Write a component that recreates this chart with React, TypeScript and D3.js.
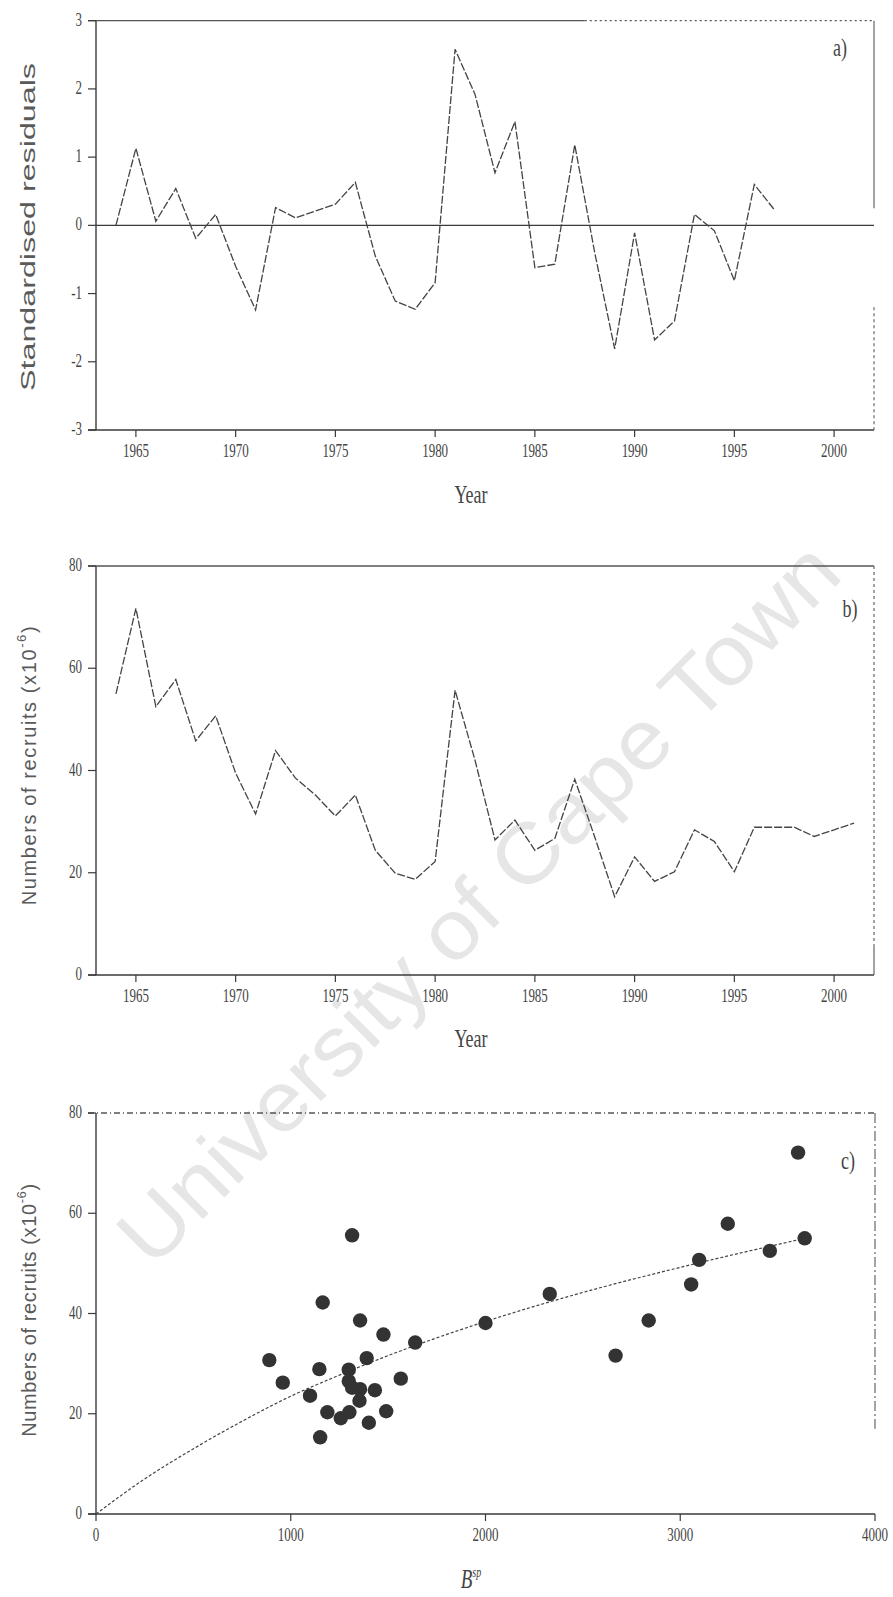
import * as d3 from "d3";

// years for panel a and b
const recruitYears = [
  1964, 1965, 1966, 1967, 1968, 1969, 1970, 1971, 1972, 1973, 1974, 1975, 1976,
  1977, 1978, 1979, 1980, 1981, 1982, 1983, 1984, 1985, 1986, 1987, 1988, 1989,
  1990, 1991, 1992, 1993, 1994, 1995, 1996, 1997, 1998, 1999, 2000, 2001,
];
const residuals = [
  0.0, 1.13, 0.06, 0.54, -0.19, 0.16, -0.6, -1.24, 0.26, 0.11, 0.21, 0.31, 0.63,
  -0.45, -1.11, -1.23, -0.84, 2.58, 1.92, 0.77, 1.52, -0.62, -0.57, 1.18, -0.4,
  -1.81, -0.11, -1.68, -1.4, 0.16, -0.08, -0.81, 0.6, 0.23,
];
const recruits = [
  55.0, 71.7, 52.5, 57.8, 45.8, 50.7, 39.5, 31.5, 43.9, 38.5, 35.2, 31.1, 35.2,
  24.4, 19.9, 18.7, 22.2, 55.7, 42.0, 26.4, 30.3, 24.4, 26.7, 38.3, 27.0, 15.3,
  23.1, 18.3, 20.2, 28.4, 26.1, 20.2, 28.9, 28.9, 28.9, 27.1, 28.4, 29.7,
];

// panel c: spawner biomass vs recruits
const spawnerBiomass = [
  890, 959, 1099, 1147, 1164, 1151, 1188, 1257, 1301, 1298, 1298, 1315, 1356,
  1353, 1315, 1356, 1390, 1401, 1432, 1476, 1490, 1565, 1639, 2000, 2330, 2668,
  2838, 3056, 3097, 3244, 3460, 3639, 3605,
];
const scatterRecruits = [
  30.7, 26.2, 23.6, 28.9, 42.2, 15.3, 20.3, 19.1, 20.3, 28.8, 26.5, 25.2, 24.9,
  22.6, 55.6, 38.6, 31.1, 18.2, 24.7, 35.8, 20.5, 27.0, 34.2, 38.1, 43.9, 31.6,
  38.6, 45.8, 50.7, 57.9, 52.5, 55.0, 72.1,
];
// fitted stock-recruit curve
const fitBiomass = [0, 250, 500, 750, 1000, 1250, 1500, 2000, 2500, 3000, 3640];
const fitRecruits = [0, 7.0, 13.0, 18.5, 23.5, 27.7, 31.6, 38.4, 44.2, 49.2, 55.0];

const yearTicks = [1965, 1970, 1975, 1980, 1985, 1990, 1995, 2000];
const residualTicks = [-3, -2, -1, 0, 1, 2, 3];
const recruitTicks = [0, 20, 40, 60, 80];
const biomassTicks = [0, 1000, 2000, 3000, 4000];

const W = 893;
const H = 1597;
const LEFT = 96;
const RIGHT = 874;
const INK = "#3a3a3a";
const SERIF = "'Liberation Serif', 'DejaVu Serif', serif";
const SANS = "'Liberation Sans', Arial, sans-serif";
const STRETCH = 1.4; // the scan is stretched vertically

const xYear = d3.scaleLinear().domain([1963, 2002]).range([LEFT, RIGHT]);
const yA = d3.scaleLinear().domain([-3, 3]).range([430, 20.7]);
const yB = d3.scaleLinear().domain([0, 80]).range([975, 566]);
const xC = d3.scaleLinear().domain([0, 4000]).range([LEFT, 875]);
const yC = d3.scaleLinear().domain([0, 80]).range([1514, 1113]);

const HText = ({ x, y, size = 13, anchor = "middle", family = SERIF, children }: any) => (
  <text
    transform={`translate(${x},${y}) scale(1,${STRETCH})`}
    fontSize={size}
    fontFamily={family}
    textAnchor={anchor}
    fill="#444"
  >
    {children}
  </text>
);

const RecruitLabel = ({ x, y, spacing }: any) => (
  <text
    transform={`translate(${x},${y}) rotate(-90)`}
    fontSize={20}
    fontFamily={SANS}
    textAnchor="middle"
    dominantBaseline="central"
    fill="#5a5a5a"
    letterSpacing={spacing}
  >
    Numbers of recruits (x10
    <tspan fontSize={13} dy={-8}>-6</tspan>
    <tspan dy={8}>)</tspan>
  </text>
);

// left axis + bottom axis solid, top and right edges as the scan shows them
const Frame = ({ x0, x1, y0, y1, topSegs, rightSegs }: any) => (
  <g fill="none">
    <line x1={x0} x2={x0} y1={y0} y2={y1} stroke={INK} strokeWidth={1.4} />
    <line x1={x0 - 8} x2={x1} y1={y1} y2={y1} stroke={INK} strokeWidth={1.6} />
    {topSegs.map((s: any, i: number) => (
      <line key={i} x1={s[0]} x2={s[1]} y1={y0} y2={y0} stroke="#555" strokeWidth={1.3} strokeDasharray={s[2]} />
    ))}
    {rightSegs.map((s: any, i: number) => (
      <line key={i} x1={x1} x2={x1} y1={s[0]} y2={s[1]} stroke="#666" strokeWidth={1.2} strokeDasharray={s[2]} />
    ))}
  </g>
);

const YTicks = ({ scale, ticks, x }: any) => (
  <g>
    {ticks.map((t: number) => (
      <g key={t}>
        <line x1={x - 8} x2={x} y1={scale(t)} y2={scale(t)} stroke={INK} strokeWidth={1.2} />
        <HText x={x - 14} y={scale(t) + 5} anchor="end">
          {t}
        </HText>
      </g>
    ))}
  </g>
);

const XTicks = ({ scale, ticks, y }: any) => (
  <g>
    {ticks.map((t: number) => (
      <g key={t}>
        <line x1={scale(t)} x2={scale(t)} y1={y} y2={y + 7} stroke={INK} strokeWidth={1.2} />
        <HText x={scale(t)} y={y + 27}>
          {t}
        </HText>
      </g>
    ))}
  </g>
);

export default function App() {
  const residualLine = d3
    .line<number>()
    .x((_, i) => xYear(recruitYears[i]))
    .y((d) => yA(d));
  const recruitLine = d3
    .line<number>()
    .x((_, i) => xYear(recruitYears[i]))
    .y((d) => yB(d));
  const fitLine = d3
    .line<number>()
    .x((d) => xC(d))
    .y((_, i) => yC(fitRecruits[i]))
    .curve(d3.curveMonotoneX);

  return (
    <svg
      width={W}
      height={H}
      viewBox={`0 0 ${W} ${H}`}
      style={{ position: "absolute", left: 0, top: 0, background: "#fff" }}
    >
      {/* watermark */}
      <text
        transform="translate(478,903) rotate(-45)"
        fontSize={84}
        fontFamily={SANS}
        textAnchor="middle"
        dominantBaseline="central"
        textLength={980}
        lengthAdjust="spacingAndGlyphs"
        fill="#e6e6e6"
      >
        University of Cape Town
      </text>

      {/* panel a */}
      <Frame
        x0={LEFT}
        x1={RIGHT}
        y0={yA(3)}
        y1={yA(-3)}
        topSegs={[
          [LEFT - 8, xYear(1987.5), null],
          [xYear(1987.5), RIGHT, "2,3"],
        ]}
        rightSegs={[
          [yA(3), yA(0.25), null],
          [yA(-1.2), yA(-3), "3,3"],
        ]}
      />
      <line x1={LEFT} x2={RIGHT} y1={yA(0)} y2={yA(0)} stroke={INK} strokeWidth={1.3} />
      <path d={residualLine(residuals) || ""} fill="none" stroke="#444" strokeWidth={1.3} strokeDasharray="8,2" />
      <YTicks scale={yA} ticks={residualTicks} x={LEFT} />
      <XTicks scale={xYear} ticks={yearTicks} y={yA(-3)} />
      <HText x={471} y={503} size={18}>Year</HText>
      <text
        transform="translate(28,227) rotate(-90)"
        fontSize={20}
        fontFamily={SANS}
        textAnchor="middle"
        dominantBaseline="central"
        textLength={328}
        lengthAdjust="spacingAndGlyphs"
        fill="#5a5a5a"
      >
        Standardised residuals
      </text>
      <HText x={840} y={56} size={18}>a)</HText>

      {/* panel b */}
      <Frame
        x0={LEFT}
        x1={RIGHT}
        y0={yB(80)}
        y1={yB(0)}
        topSegs={[[LEFT - 8, RIGHT, null]]}
        rightSegs={[
          [yB(80), yB(6), "3,3"],
          [yB(6), yB(0), null],
        ]}
      />
      <path d={recruitLine(recruits) || ""} fill="none" stroke="#444" strokeWidth={1.3} strokeDasharray="8,2" />
      <YTicks scale={yB} ticks={recruitTicks} x={LEFT} />
      <XTicks scale={xYear} ticks={yearTicks} y={yB(0)} />
      <HText x={471} y={1047} size={18}>Year</HText>
      <RecruitLabel x={29} y={765} spacing={1.6} />
      <HText x={850} y={617} size={18}>b)</HText>

      {/* panel c */}
      <Frame
        x0={LEFT}
        x1={875}
        y0={yC(80)}
        y1={yC(0)}
        topSegs={[[LEFT - 8, 875, "6,3,1,3"]]}
        rightSegs={[[yC(80), yC(17), "10,3,2,3"]]}
      />
      <path d={fitLine(fitBiomass) || ""} fill="none" stroke="#444" strokeWidth={1.2} strokeDasharray="3,2" />
      {spawnerBiomass.map((b, i) => (
        <circle key={i} cx={xC(b)} cy={yC(scatterRecruits[i])} r={7.2} fill="#333" />
      ))}
      <YTicks scale={yC} ticks={recruitTicks} x={LEFT} />
      <XTicks scale={xC} ticks={biomassTicks} y={yC(0)} />
      <g transform={`translate(471,1588) scale(1,${STRETCH})`} fill="#444" fontFamily={SERIF}>
        <text fontSize={19} fontStyle="italic" textAnchor="middle">
          B<tspan fontSize={10} dy={-8}>sp</tspan>
        </text>
      </g>
      <RecruitLabel x={29} y={1310} spacing={0.6} />
      <HText x={848} y={1169} size={18}>c)</HText>
    </svg>
  );
}
